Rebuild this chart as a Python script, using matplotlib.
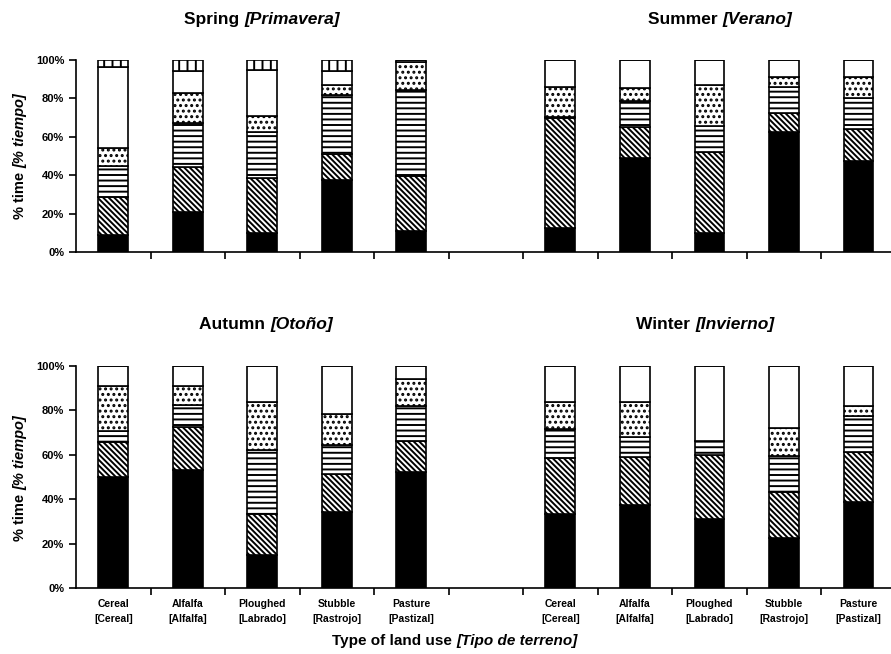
import matplotlib.pyplot as plt
import numpy as np

plt.rcParams['font.family'] = ['Liberation Sans', 'DejaVu Sans']
plt.rcParams['hatch.linewidth'] = 1.4

# land use categories (two-line labels)
land_uses = ['Cereal\n[Cereal]', 'Alfalfa\n[Alfalfa]', 'Ploughed\n[Labrado]',
             'Stubble\n[Rastrojo]', 'Pasture\n[Pastizal]']

# % time per segment, bottom to top, one list per land use
spring = [[9.0, 19.7, 16.2, 9.5, 41.8, 3.8],
          [20.9, 23.4, 23.0, 15.7, 11.4, 5.6],
          [9.9, 28.4, 24.3, 8.2, 24.0, 5.2],
          [37.7, 13.1, 30.9, 5.3, 7.4, 5.6],
          [11.0, 28.5, 44.8, 14.9, 0.8, 0.0]]
summer = [[12.7, 56.9, 0.9, 15.2, 14.3, 0.0],
          [48.7, 16.5, 13.6, 6.4, 14.8, 0.0],
          [9.9, 42.3, 13.4, 21.4, 13.0, 0.0],
          [62.6, 9.9, 13.6, 4.9, 9.0, 0.0],
          [47.5, 16.3, 16.5, 11.0, 8.7, 0.0]]
autumn = [[50.1, 15.5, 5.1, 20.3, 9.0, 0.0],
          [53.1, 19.5, 9.7, 8.6, 9.1, 0.0],
          [15.0, 18.2, 28.9, 21.7, 16.2, 0.0],
          [34.1, 17.1, 13.2, 14.2, 21.4, 0.0],
          [52.1, 14.1, 15.8, 12.0, 6.0, 0.0]]
winter = [[33.2, 25.2, 13.2, 12.1, 16.3, 0.0],
          [37.3, 21.8, 9.1, 15.5, 16.3, 0.0],
          [31.2, 28.8, 6.4, 0.0, 33.6, 0.0],
          [22.6, 20.7, 16.0, 12.6, 28.1, 0.0],
          [38.9, 22.5, 16.0, 4.8, 17.8, 0.0]]

faces = ['black', 'white', 'white', 'white', 'white', 'white']
hatches = [None, '\\\\\\\\\\\\', '---', '...', None, '||']


def draw_group(ax, data, offset):
    data = np.array(data)
    x = np.arange(len(data)) + offset
    bottom = np.zeros(len(data))
    for k in range(data.shape[1]):
        vals = data[:, k]
        ax.bar(x, vals, 0.4, bottom=bottom, color=faces[k], edgecolor='black',
               hatch=hatches[k], linewidth=1.2)
        bottom += vals


def style_axis(ax):
    ax.set_xlim(-0.5, 10.5)
    ax.set_ylim(0, 100)
    ax.spines['top'].set_visible(False)
    ax.spines['right'].set_visible(False)
    ax.spines['left'].set_linewidth(1.2)
    ax.spines['bottom'].set_linewidth(1.2)
    ax.set_yticks(np.arange(0, 101, 20))
    ax.set_yticklabels([f'{v}%' for v in range(0, 101, 20)], fontsize=8, fontweight='bold')
    ax.set_xticks(np.arange(0.5, 10, 1))
    ax.set_xticklabels([])
    ax.tick_params(axis='both', direction='out', length=5, width=1.2)


fig = plt.figure(figsize=(8.91, 6.54), dpi=100)
ax_top = fig.add_axes([0.0853, 0.6147, 0.92, 0.2936])
ax_bot = fig.add_axes([0.0853, 0.1009, 0.92, 0.3394])

draw_group(ax_top, spring, 0)
draw_group(ax_top, summer, 6)
draw_group(ax_bot, autumn, 0)
draw_group(ax_bot, winter, 6)
style_axis(ax_top)
style_axis(ax_bot)

# category labels under the bottom row
for off in (0, 6):
    for i, lab in enumerate(land_uses):
        ax_bot.text(i + off, -0.05, lab, ha='center', va='top', fontsize=7.5,
                    fontweight='bold', linespacing=1.6,
                    transform=ax_bot.get_xaxis_transform())


def two_part(x, y, plain, ital, size, rot=0):
    # bold plain part + bold italic part, joined at (x, y) in pixels
    X, Y = x / 891, 1 - y / 654
    if rot == 0:
        fig.text(X, Y, plain, ha='right', va='baseline', fontsize=size, fontweight='bold')
        fig.text(X, Y, ital, ha='left', va='baseline', fontsize=size, fontweight='bold',
                 style='italic')
    else:
        fig.text(X, Y, plain, ha='center', va='top', fontsize=size, fontweight='bold',
                 rotation=90)
        fig.text(X, Y, ital, ha='center', va='bottom', fontsize=size, fontweight='bold',
                 style='italic', rotation=90)


two_part(244, 24, 'Spring ', '[Primavera]', 12.5)
two_part(722, 24, 'Summer ', '[Verano]', 12.5)
two_part(270, 329, 'Autumn ', '[Otoño]', 12.5)
two_part(695, 329, 'Winter ', '[Invierno]', 12.5)
two_part(456, 645, 'Type of land use ', '[Tipo de terreno]', 11)
two_part(20, 168, '% time ', '[% tiempo]', 10.5, rot=90)
two_part(20, 490, '% time ', '[% tiempo]', 10.5, rot=90)

fig.savefig('out.png', dpi=100)
